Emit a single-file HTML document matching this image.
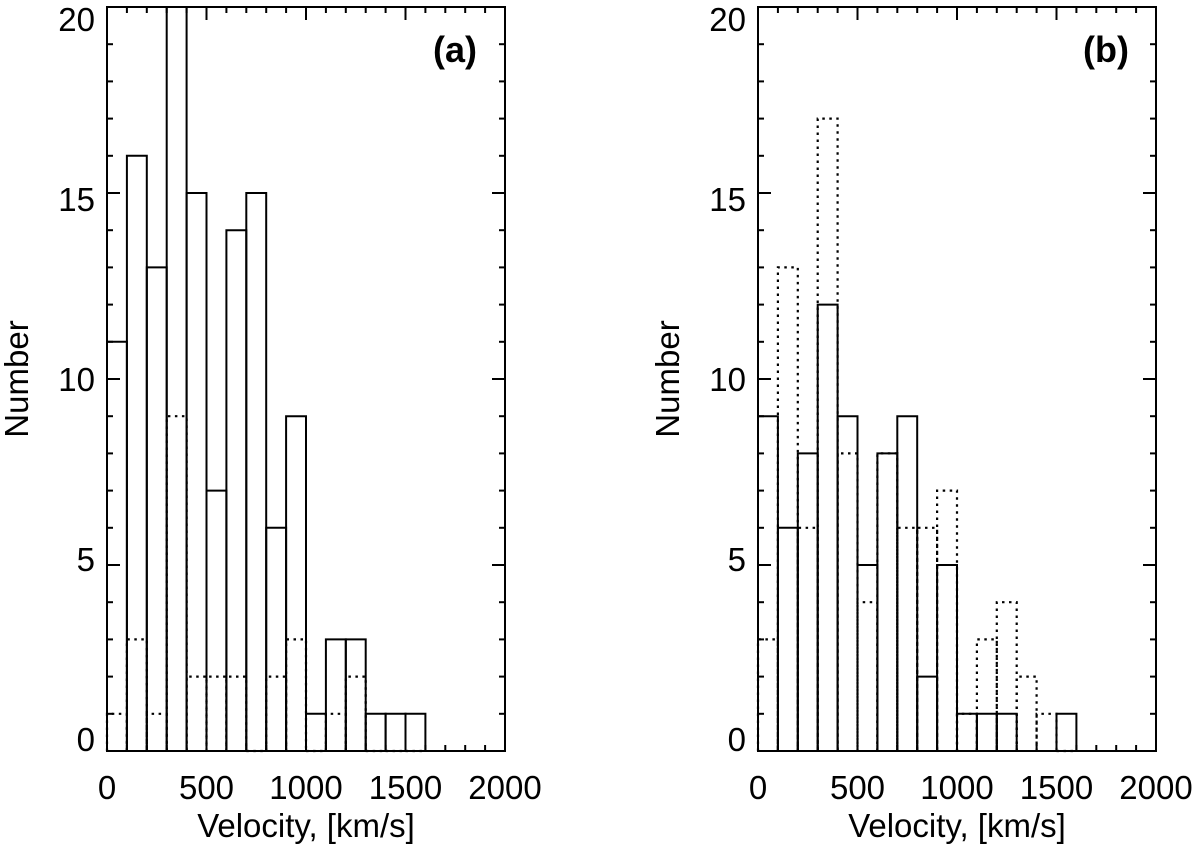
<!DOCTYPE html>
<html><head><meta charset="utf-8"><style>
html,body{margin:0;padding:0;background:#fff;width:1200px;height:849px;overflow:hidden}
svg text{font-family:"Liberation Sans",sans-serif;fill:#000}
</style></head><body>
<svg id="chart" width="1200" height="849" viewBox="0 0 1200 849" xmlns="http://www.w3.org/2000/svg"></svg>
<script>
const binStarts = [0,100,200,300,400,500,600,700,800,900,1000,1100,1200,1300,1400,1500];
const solidA = [11,16,13,20,15,7,14,15,6,9,1,3,3,1,1,1];
const dottedA = [1,3,1,9,2,2,2,0,2,3,0,1,2,0,0,0];
const solidB = [9,6,8,12,9,5,8,9,2,5,1,1,1,0,0,1];
const dottedB = [3,13,6,17,8,4,8,6,6,7,1,3,4,2,1,0];
const xTicks = [0,500,1000,1500,2000];
const yTicks = [0,5,10,15,20];
const panelLabels = ['(a)','(b)'];
const binWidth = 100;

const svg = document.getElementById('chart');
const NS = 'http://www.w3.org/2000/svg';
function mk(tag, attrs, parent){const e=document.createElementNS(NS,tag);for(const k in attrs)e.setAttribute(k,attrs[k]);(parent||svg).appendChild(e);return e;}

const panels = [
  {x0:107, solid:solidA, dotted:dottedA, name:'a'},
  {x0:758, solid:solidB, dotted:dottedB, name:'b'}
];
const topY = 7, bottomY = 751, pw = 398;

panels.forEach((p, pi) => {
  const g = mk('g', {});
  
  
  const xs = v => p.x0 + v / 2000 * pw;
  const ys = v => bottomY - v / 20 * (bottomY - topY);
  p.dotted.forEach((v, i) => {
    const x1 = xs(binStarts[i]), x2 = xs(binStarts[i] + binWidth);
    const r = mk('path', {d:`M${x1},${bottomY} L${x1},${ys(v)} L${x2},${ys(v)} L${x2},${bottomY}`, fill:'none', stroke:'#000', 'stroke-width':2.2, 'stroke-dasharray':'2.5,4.5'}, g);
    
    
  });
  p.solid.forEach((v, i) => {
    if (v === 0) return;
    const x1 = xs(binStarts[i]), x2 = xs(binStarts[i] + binWidth);
    const r = mk('path', {d:`M${x1},${bottomY} L${x1},${ys(v)} L${x2},${ys(v)} L${x2},${bottomY}`, fill:'none', stroke:'#000', 'stroke-width':2}, g);
    
    
  });
  const fr = mk('rect', {x:p.x0, y:topY, width:pw, height:bottomY-topY, fill:'none', stroke:'#000', 'stroke-width':2}, g);
  
  
  for (let v = 0; v <= 2000; v += 100) {
    const x = xs(v), len = v % 500 === 0 ? 13 : 6;
    mk('line', {x1:x, x2:x, y1:bottomY, y2:bottomY-len, stroke:'#000', 'stroke-width':2}, g);
    mk('line', {x1:x, x2:x, y1:topY, y2:topY+len, stroke:'#000', 'stroke-width':2}, g);
  }
  xTicks.forEach(v => {
    const t = mk('text', {x:xs(v), y:799, 'font-size':33, 'text-anchor':'middle'}, g);
    t.textContent = v;
    
    
  });
  for (let v = 0; v <= 20; v += 1) {
    const y = ys(v), len = v % 5 === 0 ? 13 : 6;
    mk('line', {x1:p.x0, x2:p.x0+len, y1:y, y2:y, stroke:'#000', 'stroke-width':2}, g);
    mk('line', {x1:p.x0+pw, x2:p.x0+pw-len, y1:y, y2:y, stroke:'#000', 'stroke-width':2}, g);
  }
  yTicks.forEach(v => {
    const off = (v - 10) * 1.2;
    const t = mk('text', {x:p.x0-12, y:ys(v)+12+off, 'font-size':33, 'text-anchor':'end'}, g);
    t.textContent = v;
    
    
  });
  const yl = mk('text', {x:0, y:0, 'font-size':33, 'text-anchor':'middle', transform:`translate(${p.x0-80},379) rotate(-90)`}, g);
  yl.setAttribute('transform', `translate(${p.x0-79},379) rotate(-90)`);
  yl.textContent = 'Number';
  
  
  const xl = mk('text', {x:p.x0+pw/2, y:837, 'font-size':33, 'text-anchor':'middle'}, g);
  xl.textContent = 'Velocity, [km/s]';
  
  
  const pl = mk('text', {x:p.x0+pw-50, y:62, 'font-size':36, 'font-weight':'bold', 'text-anchor':'middle'}, g);
  pl.textContent = panelLabels[pi];
  
  
});
</script>
</body></html>
